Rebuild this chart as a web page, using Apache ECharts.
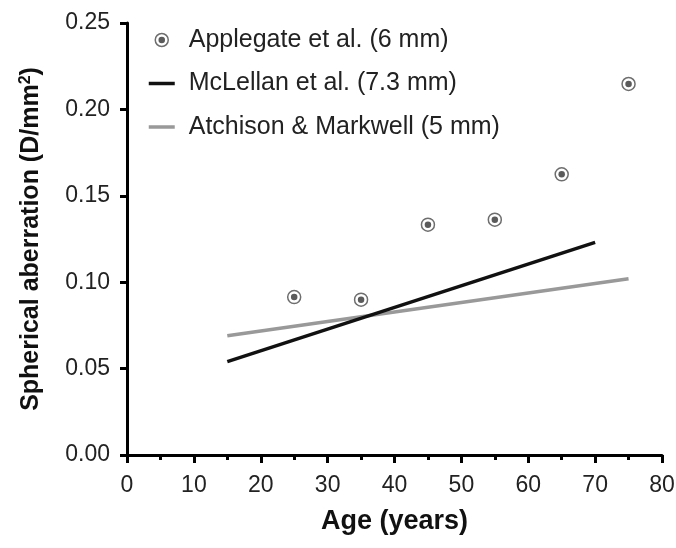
<!DOCTYPE html>
<html>
<head>
<meta charset="utf-8">
<script src="https://cdn.jsdelivr.net/npm/echarts@6/dist/echarts.min.js"></script>
<style>
  html, body { margin: 0; padding: 0; background: #fff; }
  #chart { width: 676px; height: 548px; }
</style>
</head>
<body>
<div id="chart"></div>
<script>
// Applegate et al. (6 mm): measured points by age
const applegateAge = [25, 35, 45, 55, 65, 75];
const applegateSA = [0.0914, 0.0899, 0.1333, 0.1362, 0.1624, 0.2147];

// McLellan et al. (7.3 mm): regression line end points
const mclellanAge = [15, 70];
const mclellanSA = [0.054, 0.123];

// Atchison & Markwell (5 mm): regression line end points
const atchisonAge = [15, 75];
const atchisonSA = [0.069, 0.102];

// Axis ticks
const xTicks = [0, 10, 20, 30, 40, 50, 60, 70, 80];
const yTicks = [0.00, 0.05, 0.10, 0.15, 0.20, 0.25];

const pairs = (xs, ys) => xs.map((x, i) => [x, ys[i]]);

// ring-with-dot marker
const ringSvg = '<svg xmlns="http://www.w3.org/2000/svg" width="32" height="32" viewBox="0 0 32 32">' +
  '<circle cx="16" cy="16" r="13" fill="#fff" stroke="#4a4a4a" stroke-width="3"/>' +
  '<circle cx="16" cy="16" r="6.5" fill="#333"/></svg>';
const ringSymbol = 'image://data:image/svg+xml;charset=utf-8,' + encodeURIComponent(ringSvg);

const font = 'Liberation Sans, Arial, Helvetica, sans-serif';

const chart = echarts.init(document.getElementById('chart'), null, { renderer: 'canvas' });

chart.setOption({
  backgroundColor: '#fff',
  animation: false,
  textStyle: { fontFamily: font },
  grid: { left: 127, right: 14, top: 23, bottom: 93, containLabel: false, outerBoundsMode: 'none' },
  legend: {
    left: 142,
    top: 22,
    orient: 'vertical',
    itemGap: 17.5,
    itemWidth: 26,
    itemHeight: 16,
    textStyle: { fontFamily: font, fontSize: 25, lineHeight: 26, color: '#222', padding: [0, 0, 0, 9] },
    data: [
      { name: 'Applegate et al. (6 mm)', icon: ringSymbol },
      { name: 'McLellan et al. (7.3 mm)', itemStyle: { opacity: 0 }, lineStyle: { width: 3.5 } },
      { name: 'Atchison & Markwell (5 mm)', itemStyle: { opacity: 0 }, lineStyle: { width: 3.5 } }
    ]
  },
  xAxis: {
    type: 'value',
    min: xTicks[0],
    max: xTicks[xTicks.length - 1],
    interval: 10,
    name: 'Age (years)',
    nameLocation: 'middle',
    nameGap: 53,
    nameTextStyle: { fontFamily: font, fontSize: 27, fontWeight: 'bold', color: '#111' },
    axisLine: { show: true, onZero: false, lineStyle: { color: '#000', width: 3 } },
    axisTick: { show: true, inside: false, length: 8, lineStyle: { color: '#000', width: 3 } },
    minorTick: { show: true, splitNumber: 2, length: 5, lineStyle: { color: '#000', width: 3 } },
    splitLine: { show: false },
    axisLabel: { fontFamily: font, fontSize: 23, color: '#222', margin: 19 }
  },
  yAxis: {
    type: 'value',
    min: yTicks[0],
    max: yTicks[yTicks.length - 1],
    interval: 0.05,
    name: '{b|Spherical aberration (D/mm}{s|2}{b|)}',
    nameLocation: 'middle',
    nameGap: 83,
    nameRotate: 90,
    nameTextStyle: {
      rich: {
        b: { fontFamily: font, fontSize: 25, fontWeight: 'bold', color: '#111' },
        s: { fontFamily: font, fontSize: 16, fontWeight: 'bold', color: '#111', verticalAlign: 'top', padding: [0, 0, 10, 0] }
      }
    },
    axisLine: { show: true, onZero: false, lineStyle: { color: '#000', width: 3 } },
    axisTick: { show: true, inside: false, length: 7, lineStyle: { color: '#000', width: 3 } },
    splitLine: { show: false },
    axisLabel: {
      fontFamily: font, fontSize: 23, color: '#222', margin: 17,
      formatter: v => v.toFixed(2)
    }
  },
  series: [
    {
      name: 'Applegate et al. (6 mm)',
      type: 'scatter',
      symbol: ringSymbol,
      symbolSize: 16,
      data: pairs(applegateAge, applegateSA),
      z: 5
    },
    {
      name: 'McLellan et al. (7.3 mm)',
      type: 'line',
      showSymbol: false,
      symbol: 'none',
      color: '#111',
      lineStyle: { color: '#111', width: 3.5 },
      data: pairs(mclellanAge, mclellanSA),
      z: 3
    },
    {
      name: 'Atchison & Markwell (5 mm)',
      type: 'line',
      showSymbol: false,
      symbol: 'none',
      color: '#999',
      lineStyle: { color: '#999', width: 3.5 },
      data: pairs(atchisonAge, atchisonSA),
      z: 2
    }
  ]
});
</script>
</body>
</html>
